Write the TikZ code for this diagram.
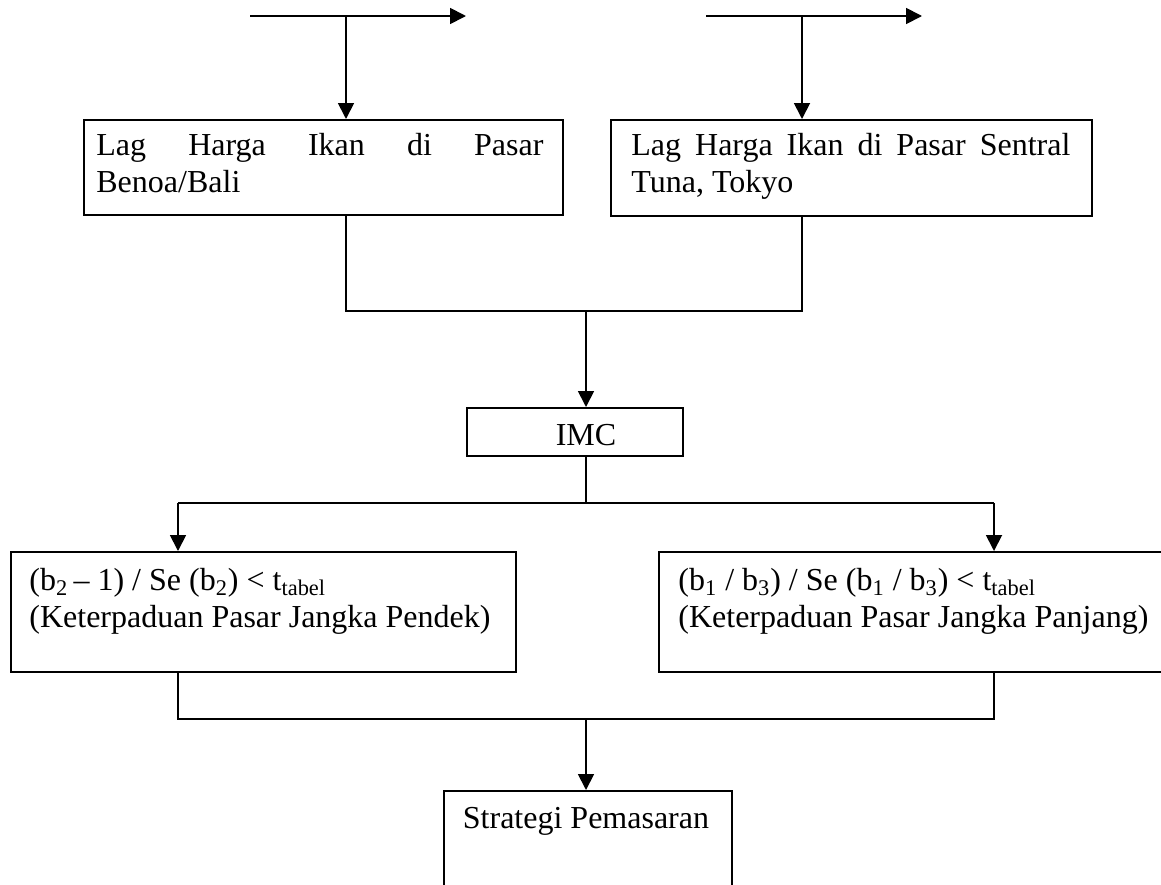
\documentclass[tikz,border=0pt]{standalone}
\usepackage{fontspec}
\setmainfont{Liberation Serif}
\usetikzlibrary{arrows.meta}
\begin{document}
\begin{tikzpicture}[x=0.5pt,y=-0.5pt,
  box/.style={draw,line width=1.1pt,rectangle,inner sep=0pt,anchor=north west},
  txt/.style={inner sep=0pt,font=\fontsize{16}{18.5}\selectfont},
  jtxt/.style={txt,align=justify,anchor=base west},
  conn/.style={line width=0.9pt},
  arr/.style={conn,-{Triangle[length=8pt,width=8pt]}}]
\clip (0,0) rectangle (1161,884);
% boxes
\node[box,minimum width=239.5pt,minimum height=47.5pt] (b1) at (83,119) {};
\node[box,minimum width=240.5pt,minimum height=48pt] (b2) at (610,119) {};
\node[box,minimum width=108pt,minimum height=24pt] (imc) at (466,407) {};
\node[box,minimum width=252.5pt,minimum height=60pt] (b3) at (10,551) {};
\node[box,minimum width=265pt,minimum height=60pt] (b4) at (658,551) {};
\node[box,minimum width=144pt,minimum height=60pt] (st) at (443,790) {};
% texts
\node[jtxt,text width=223.5pt,
  execute at begin node={\hyphenpenalty=10000\exhyphenpenalty=10000\tolerance=10000}]
  (b1t) at (96,155) {Lag Harga Ikan di Pasar Benoa/Bali};
\node[jtxt,text width=219.5pt,
  execute at begin node={\hyphenpenalty=10000\exhyphenpenalty=10000\tolerance=10000}]
  (b2t) at (631,155) {Lag Harga Ikan di Pasar Sentral Tuna, Tokyo};
\node[txt,anchor=base] (imct) at (586,445) {IMC};
\node[txt,align=left,anchor=base west] (b3t) at (29,627)
  {(b\textsubscript{2}\,– 1) / Se (b\textsubscript{2}) < t\textsubscript{tabel}\\(Keterpaduan Pasar Jangka Pendek)};
\node[txt,align=left,anchor=base west] (b4t) at (678,627)
  {(b\textsubscript{1} / b\textsubscript{3}) / Se (b\textsubscript{1} / b\textsubscript{3}) < t\textsubscript{tabel}\\(Keterpaduan Pasar Jangka Panjang)};
\node[txt,anchor=base] (stt) at (586,828) {Strategi Pemasaran};
% top input arrows
\coordinate (a1s) at (250,16);
\coordinate (a1e) at (466,16);
\coordinate (j1) at (346,16);
\coordinate (a2s) at (706,16);
\coordinate (a2e) at (922,16);
\coordinate (j2) at (802,16);
\draw[arr] (a1s) -- (a1e);
\draw[arr] (j1) -- (j1 |- b1.north);
\draw[arr] (a2s) -- (a2e);
\draw[arr] (j2) -- (j2 |- b2.north);
% merge to IMC
\coordinate (m1) at (346,311);
\coordinate (m2) at (802,311);
\coordinate (m0) at (586,311);
\draw[conn] (b1.south -| m1) -- (m1) -- (m2) -- (b2.south -| m2);
\draw[arr] (m0) -- (m0 |- imc.north);
% split from IMC
\coordinate (s0) at (586,503);
\coordinate (s1) at (178,503);
\coordinate (s2) at (994,503);
\draw[conn] (s0 |- imc.south) -- (s0);
\draw[conn] (s1) -- (s2);
\draw[arr] (s1) -- (s1 |- b3.north);
\draw[arr] (s2) -- (s2 |- b4.north);
% merge to Strategi
\coordinate (u1) at (178,719);
\coordinate (u2) at (994,719);
\coordinate (u0) at (586,719);
\draw[conn] (u1 |- b3.south) -- (u1) -- (u2) -- (u2 |- b4.south);
\draw[arr] (u0) -- (u0 |- st.north);
\end{tikzpicture}
\end{document}
